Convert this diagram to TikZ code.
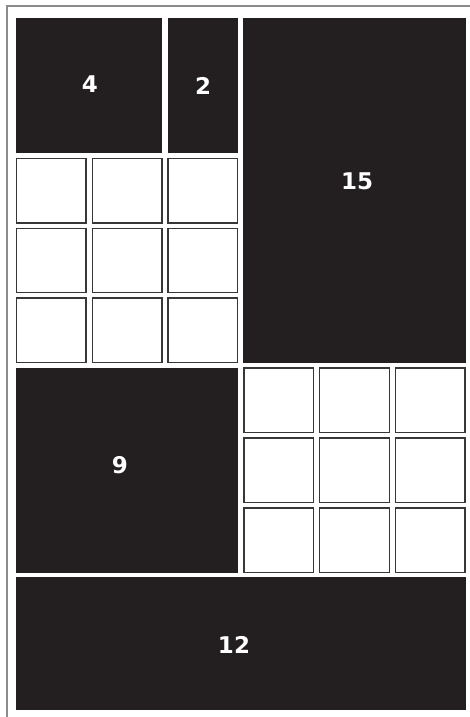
\documentclass[tikz,border=0pt]{standalone}
\usepackage{fontspec}
\setmainfont{DejaVu Sans}
\usetikzlibrary{positioning}
\definecolor{TileBlack}{RGB}{35, 31, 32}
\definecolor{TileEdge}{RGB}{55, 55, 55}
\definecolor{FrameGrey}{RGB}{140, 140, 140}

\tikzset{
	blockbox/.style={shape=rectangle, fill=TileBlack, draw=none, inner sep=0pt, outer sep=0pt, anchor=north west},
	cellbox/.style={shape=rectangle, fill=white, draw=TileEdge, line width=1.4pt, inner sep=0pt, outer sep=0pt, anchor=north west, minimum width=69.5pt, minimum height=64.5pt},
	arealabel/.style={text=white, font=\fontsize{23}{23}\selectfont\bfseries, inner sep=0pt}
}

\begin{document}
\begin{tikzpicture}[x=1pt, y=-1pt]
		\useasboundingbox (0,0) rectangle (470,717);
		
		% Frame
		\coordinate (ftl) at (6.5,6.5);
		\coordinate (ftr) at (470,6.5);
		\coordinate (fbl) at (6.5,717);
		\draw[FrameGrey, line width=2pt] (ftr) -- (ftl) -- (fbl);
		
		% Black blocks
		\node[blockbox, minimum width=146.3pt, minimum height=135.4pt] (b4) at (16,18) {};
		\node[blockbox, minimum width=70.5pt, minimum height=135.4pt] (b2) at (167.6,18) {};
		\node[blockbox, minimum width=222.1pt, minimum height=345.1pt] (b15) at (243.4,18) {};
		\node[blockbox, minimum width=222.1pt, minimum height=205.3pt] (b9) at (16,367.5) {};
		\node[blockbox, minimum width=449.5pt, minimum height=133pt] (b12) at (16,577.2) {};
		
		% Small cells
		\foreach \i in {0,1,2}
			\foreach \j in {2,3,4}
				\node[cellbox] (l\i\j) at ({16.5+75.8*\i},{18.5+69.9*\j}) {};
		\foreach \i in {3,4,5}
			\foreach \j in {5,6,7}
				\node[cellbox] (r\i\j) at ({16.5+75.8*\i},{18.5+69.9*\j}) {};
		
		% Labels
		\node[arealabel] (t4) at (90,84) {4};
		\node[arealabel] (t2) at (203,86) {2};
		\node[arealabel] (t15) at (357,181) {15};
		\node[arealabel] (t9) at (120,465) {9};
		\node[arealabel] (t12) at (234,645) {12};
	\end{tikzpicture}
\end{document}
